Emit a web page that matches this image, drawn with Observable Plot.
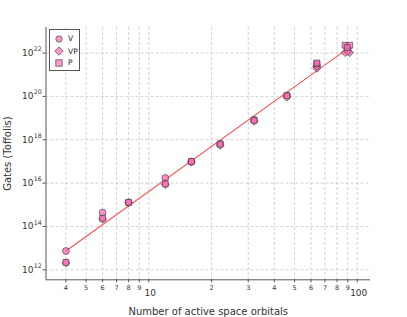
<!DOCTYPE html>
<html>
<head>
<meta charset="utf-8">
<script src="https://cdn.jsdelivr.net/npm/d3@7"></script>
<script src="https://cdn.jsdelivr.net/npm/@observablehq/plot@0.6"></script>
<style>
  html, body { margin: 0; padding: 0; background: #fff; }
  #wrap { position: relative; width: 407px; height: 317px; font-family: "DejaVu Sans", sans-serif; }
  #legend { position: absolute; left: 49px; top: 29px; width: 31px; height: 42px; border: 1px solid #555; background: #fff; font-size: 7.5px; color: #222; box-sizing: border-box; }
  #legend .row { position: absolute; left: 4px; height: 10px; display: flex; align-items: center; }
  #legend .row span { margin-left: 4px; }
</style>
</head>
<body>
<div id="wrap"></div>
<script>
// ---- data ----
const vX  = [4, 6, 8, 12, 16, 22, 32, 46, 64, 90];
const vY  = [7.4e12, 4.4e14, 1.26e15, 1.74e16, 1.0e17, 6.6e17, 8.5e18, 1.12e20, 2.8e21, 1.6e22];
const vpX = [4, 6, 8, 12, 16, 22, 32, 46, 64, 64, 87.5, 92, 90];
const vpY = [2.1e12, 2.2e14, 1.26e15, 8.7e15, 9.3e16, 5.5e17, 7.1e18, 9.3e19, 2.0e21, 2.4e21, 1.05e22, 1.05e22, 1.2e22];
const pX  = [4, 6, 8, 12, 16, 22, 32, 46, 64, 64, 87.5, 92, 89.5];
const pY  = [2.2e12, 2.4e14, 1.3e15, 9.3e15, 1.0e17, 6.3e17, 7.9e18, 1.07e20, 3.2e21, 3.5e21, 2.3e22, 2.3e22, 1.8e22];
const fitX = [4, 90];
const fitY = [7.4e12, 1.6e22];
const seriesNames = ["V", "VP", "P"];
const xMinorTicks = [4, 5, 6, 7, 8, 9, 20, 30, 40, 50, 60, 70, 80, 90];
const xMinorLabels = ["4", "5", "6", "7", "8", "9", "2", "3", "4", "5", "6", "7", "8", "9"];
const xMajorTicks = [10, 100];
const xMajorLabels = ["10", "100"];
const yTicks = [1e12, 1e14, 1e16, 1e18, 1e20, 1e22];
const yTickExps = ["12", "14", "16", "18", "20", "22"];
const xTitle = "Number of active space orbitals";
const yTitle = "Gates (Toffolis)";

const xDomain = [3.21, 115.8];
const yDomain = [Math.pow(10, 11.54), Math.pow(10, 23.18)];

const pts = (xs, ys) => xs.map((x, i) => ({x, y: ys[i]}));
const fill = "#ff69b4", edge = "#444";
const dotStyle = {x: "x", y: "y", fill, fillOpacity: 0.75, stroke: edge, strokeOpacity: 0.85, strokeWidth: 0.8};

const chart = Plot.plot({
  width: 407, height: 317,
  marginLeft: 45.5, marginRight: 37, marginTop: 27, marginBottom: 37.7,
  style: {fontFamily: "DejaVu Sans, sans-serif", background: "white", color: "#333"},
  x: {type: "log", domain: xDomain, axis: null},
  y: {type: "log", domain: yDomain, axis: null},
  marks: [
    Plot.gridX(xMinorTicks.concat(xMajorTicks), {stroke: "#c8c8c8", strokeOpacity: 1, strokeDasharray: "3,2", strokeWidth: 0.8}),
    Plot.gridY(yTicks, {stroke: "#c8c8c8", strokeOpacity: 1, strokeDasharray: "3,2", strokeWidth: 0.8}),
    Plot.ruleX([xDomain[0]], {stroke: "#555", strokeWidth: 1}),
    Plot.ruleY([yDomain[0]], {stroke: "#555", strokeWidth: 1}),
    Plot.axisX(xMinorTicks.concat(xMajorTicks), {tickSize: 3, stroke: "#555", tickFormat: () => "", label: null}),
    Plot.text(xMinorTicks, {x: d => d, frameAnchor: "bottom", text: (d, i) => xMinorLabels[i], lineAnchor: "top", dy: 5.5, fontSize: 6.5, fill: "#333"}),
    Plot.text(xMajorTicks, {x: d => d, frameAnchor: "bottom", text: (d, i) => xMajorLabels[i], lineAnchor: "top", dy: 9.5, dx: 1.5, fontSize: 9, fill: "#333"}),
    Plot.axisX([], {label: xTitle, labelAnchor: "center", labelArrow: "none", labelOffset: 35, fontSize: 10}),
    Plot.axisY(yTicks, {tickSize: 3, tickPadding: 9.5, fontSize: 9, stroke: "#555", tickFormat: () => "10", label: null}),
    Plot.text(yTicks, {y: d => d, frameAnchor: "left", text: (d, i) => yTickExps[i], textAnchor: "start", dx: -12.3, dy: -4, fontSize: 6.3, fill: "#333"}),
    Plot.axisY([], {label: yTitle, labelAnchor: "center", labelArrow: "none", labelOffset: 42, fontSize: 10}),
    Plot.line(pts(fitX, fitY), {x: "x", y: "y", stroke: "#ff5050", strokeWidth: 1.1}),
    Plot.dot(pts(vX, vY), {...dotStyle, symbol: "circle", r: 3.4}),
    Plot.dot(pts(vpX, vpY), {...dotStyle, symbol: "diamond2", r: 3.6}),
    Plot.dot(pts(pX, pY), {...dotStyle, symbol: "square", r: 3.3})
  ]
});

const wrap = document.getElementById("wrap");
wrap.appendChild(chart);

// legend
const legend = document.createElement("div");
legend.id = "legend";
const shapes = {
  V: '<circle cx="5" cy="5" r="3.2"/>',
  VP: '<path d="M5 0.8 L9.2 5 L5 9.2 L0.8 5 Z"/>',
  P: '<rect x="1.8" y="1.8" width="6.4" height="6.4"/>'
};
const rowTops = [3.5, 16, 27.5];
seriesNames.forEach((name, i) => {
  const row = document.createElement("div");
  row.className = "row";
  row.style.top = rowTops[i] + "px";
  row.innerHTML = `<svg width="10" height="10" style="overflow:visible"><g fill="${fill}" fill-opacity="0.7" stroke="${edge}" stroke-opacity="0.85" stroke-width="0.8">${shapes[name]}</g></svg><span>${name}</span>`;
  legend.appendChild(row);
});
wrap.appendChild(legend);
</script>
</body>
</html>
